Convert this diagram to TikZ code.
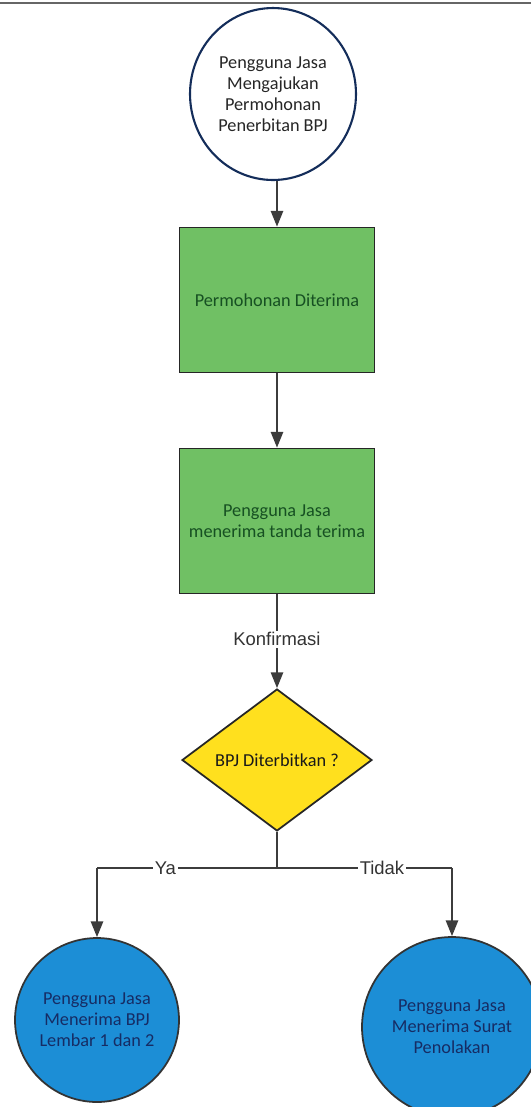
\documentclass[tikz,border=0pt]{standalone}
\usepackage{fontspec}
\setmainfont{Carlito}
\newfontfamily\arialf{Liberation Sans}
\usetikzlibrary{shapes.geometric,arrows.meta}
\definecolor{boxgreen}{RGB}{112,192,100}
\definecolor{txtgreen}{RGB}{22,80,34}
\definecolor{dyellow}{RGB}{255,224,30}
\definecolor{cblue}{RGB}{28,142,214}
\definecolor{txtnavy}{RGB}{22,44,100}
\definecolor{navyline}{RGB}{20,45,90}
\definecolor{linegray}{RGB}{60,60,60}
\tikzset{
  x=0.02cm, y=-0.02cm,
  txt/.style={font=\fontsize{10.4}{12}\selectfont, align=center},
  startnode/.style={txt, ellipse, draw=navyline, line width=1.2pt, fill=white, text=black!85,
    minimum width=3.32cm, minimum height=3.44cm, inner sep=0pt},
  procbox/.style={txt, rectangle, draw=black!85, line width=1pt, fill=boxgreen, text=txtgreen,
    minimum width=3.9cm, minimum height=2.9cm},
  decision/.style={txt, diamond, draw=black!85, line width=1pt, fill=dyellow, text=black!90,
    minimum width=3.8cm, minimum height=2.84cm, inner sep=0pt},
  endnode/.style={txt, circle, draw=black!80, line width=1pt, fill=cblue, text=txtnavy, inner sep=0pt},
  flow/.style={draw=linegray, line width=1.1pt, -{Triangle[width=7pt,length=9pt]}},
  plain/.style={draw=linegray, line width=1.1pt},
  lbl/.style={font=\arialf\fontsize{10.5}{12}\selectfont, fill=white, text=black!80, inner sep=1pt}
}
\begin{document}
\begin{tikzpicture}
\useasboundingbox (0,0) rectangle (531,1107);
\begin{scope}
\clip (0,0) rectangle (531,1107);
\draw[black!60, line width=0.9pt] (0,3) -- (531,3);
\node[startnode] (start) at (273,94) {Pengguna Jasa\\Mengajukan\\Permohonan\\Penerbitan BPJ};
\node[procbox] (p1) at (277,300) {Permohonan Diterima};
\node[procbox] (p2) at (277,521) {Pengguna Jasa\\menerima tanda terima};
\node[decision] (dec) at (277,760) {BPJ Diterbitkan ?};
\node[endnode, minimum size=3.28cm] (ya) at (97,1020) {Pengguna Jasa\\Menerima BPJ\\Lembar 1 dan 2};
\node[endnode, minimum size=3.6cm] (tidak) at (452,1027) {Pengguna Jasa\\Menerima Surat\\Penolakan};
\coordinate (j) at (277,868);
\coordinate (jl) at (97,868);
\coordinate (jr) at (452,868);
\draw[flow] (start.south -| p1.north) -- (p1.north);
\draw[flow] (p1) -- (p2);
\draw[flow] (p2) -- node[lbl, pos=0.48] {Konfirmasi} (dec);
\draw[plain] (dec.south) -- (j);
\draw[plain] (j) -- node[lbl, pos=0.62] {Ya} (jl);
\draw[flow] (jl) -- (ya.north);
\draw[plain] (j) -- node[lbl, pos=0.6] {Tidak} (jr);
\draw[flow] (jr) -- (tidak.north);
\end{scope}
\end{tikzpicture}
\end{document}
